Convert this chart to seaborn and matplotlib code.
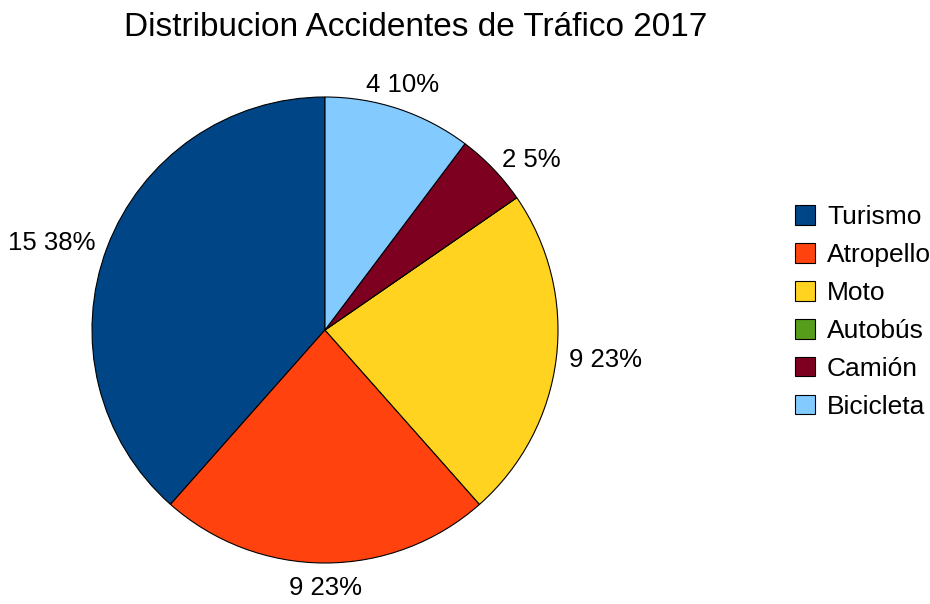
import numpy as np
import matplotlib
matplotlib.use('Agg')
import matplotlib.pyplot as plt
import seaborn as sns

# datos
categorias = ['Turismo', 'Atropello', 'Moto', 'Autobús', 'Camión', 'Bicicleta']
accidentes = [15, 9, 9, 0, 2, 4]
colores = ['#004586', '#ff420e', '#ffd320', '#579d1c', '#7e0021', '#83caff']

sns.set_theme(style='white')
plt.rcParams['font.family'] = ['Liberation Sans', 'DejaVu Sans']
plt.rcParams['text.color'] = 'black'

fig = plt.figure(figsize=(9.3, 6.04), dpi=100)
W, H = 930, 604
cx, cy, r = 325, 330, 233
ax = fig.add_axes([(cx - r) / W, (H - cy - r) / H, 2 * r / W, 2 * r / H])

total = sum(accidentes)
etiquetas = ['%d %d%%' % (v, round(v * 100 / total)) if v > 0 else '' for v in accidentes]

wedges, textos = ax.pie(accidentes, colors=colores, startangle=90, counterclock=True,
                        labels=etiquetas, labeldistance=1.055,
                        wedgeprops=dict(edgecolor='black', linewidth=0.8),
                        textprops=dict(fontsize=18.5, color='black'))
for w, t in zip(wedges, textos):
    ang = np.deg2rad((w.theta1 + w.theta2) / 2)
    if abs(np.cos(ang)) < 0.4:
        t.set_ha('center')
        t.set_va('bottom' if np.sin(ang) > 0 else 'top')
ax.set_xlim(-1, 1)
ax.set_ylim(-1, 1)
ax.set_aspect('equal')
ax.axis('off')

fig.text(416 / W, 1 - 27 / H, 'Distribucion Accidentes de Tráfico 2017',
         ha='center', va='center', fontsize=24, color='black')

fig.legend(wedges, categorias, loc='upper left', bbox_to_anchor=(795 / W, 1 - 205 / H),
           frameon=False, fontsize=19, handlelength=0.76, handleheight=0.76,
           handletextpad=0.45, labelspacing=0.53, borderaxespad=0, borderpad=0,
           labelcolor='black')

fig.savefig('out.png', dpi=100)
